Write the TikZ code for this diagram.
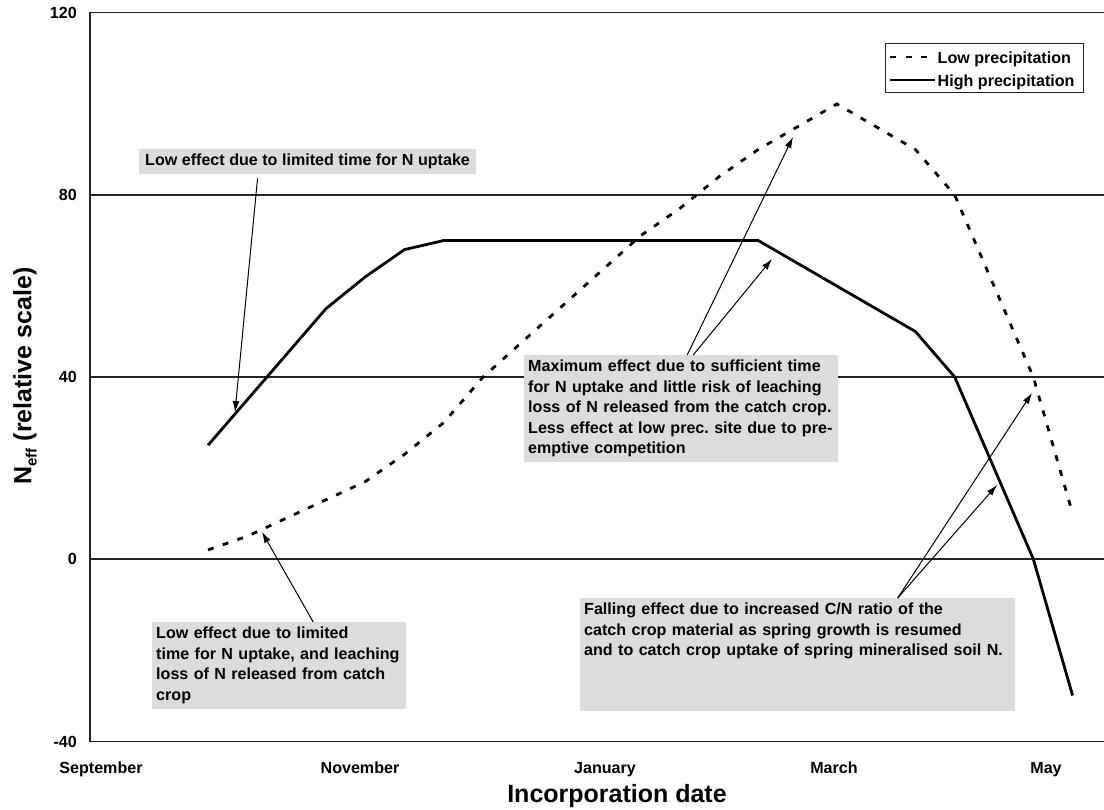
\documentclass[tikz,border=0pt]{standalone}
\usepackage{fontspec}
\setmainfont{Liberation Sans}
\usetikzlibrary{arrows.meta}
\definecolor{notegray}{RGB}{220,220,220}
\definecolor{gridgray}{RGB}{35,35,35}
\frenchspacing

\begin{document}
\begin{tikzpicture}[x=1pt, y=-1pt, font=\bfseries\fontsize{16.1}{20.5}\selectfont]
    \tikzstyle{gridline} = [draw=gridgray, line width=1.2pt]
    \tikzstyle{axisline} = [draw=gridgray, line width=1.6pt]
    \tikzstyle{highprec} = [draw=black, line width=2.8pt, line join=round]
    \tikzstyle{lowprec} = [draw=black, line width=2.8pt, dash pattern=on 6pt off 9.5pt]
    \tikzstyle{note} = [fill=notegray, inner xsep=4pt, inner ysep=5pt, align=left, anchor=north west, execute at begin node={\hyphenpenalty=10000\relax}]
    \tikzstyle{pointer} = [draw=black, line width=1pt, -{Latex[length=11pt,width=7pt]}]
    \tikzstyle{bigtitle} = [font=\bfseries\fontsize{25}{30}\selectfont]

    \useasboundingbox (0,0) rectangle (1104,810);

    \foreach \yy in {195,377,559}
        \draw[gridline] (90,\yy) -- (1104,\yy);
    \draw[axisline] (1104,12.5) -- (90,12.5) -- (90,741.5) -- (1104,741.5);

    \foreach \val/\yy [count=\k] in {120/12.5, 80/195, 40/377, 0/559, -40/741.5}
        \node[anchor=east, inner sep=0pt] (ytick\k) at (77,\yy) {\val};
    \foreach \mon/\xx [count=\k] in {September/101, November/360, January/605, March/834, May/1046}
        \node[anchor=base, inner sep=0pt] (month\k) at (\xx,773) {\mon};

    \node[bigtitle, anchor=base] (xtitle) at (617,802) {Incorporation date};
    \node[bigtitle, rotate=90] (ytitle) at (25,376) {N\raisebox{-0.4ex}{\fontsize{15}{18}\selectfont eff} (relative scale)};

    \begin{scope}[shift={(208,559)}, x=39.3pt, y=4.55pt]
        \draw[highprec] (0,25) -- (3,55) -- (4,62) -- (5,68) -- (6,70) -- (14,70) -- (18,50) -- (19,40) -- (21,0) -- (22,-30);
        \draw[lowprec] (0,2) -- (1,5) -- (2,9) -- (3,13) -- (4,17) -- (5,23) -- (6,30) -- (7,40) -- (11,71) -- (12,77) -- (13,84) -- (14,90) -- (15,95) -- (16,100) -- (18,90) -- (19,80) -- (21,40) -- (22,10);
    \end{scope}

    \node[draw=gridgray, line width=1.2pt, fill=white, minimum width=198pt, minimum height=49pt, anchor=north west, inner sep=0pt] (legend) at (885,43) {};
    \node[anchor=west, inner sep=0pt] (lowlbl) at (937.5,59) {Low precipitation};
    \node[anchor=west, inner sep=0pt] (highlbl) at (937.5,82) {High precipitation};
    \draw[lowprec] (890,57) -- (928,57);
    \draw[highprec] (890,80) -- (935,80);

    \node[note, inner xsep=6pt] (lowtime) at (139,149) {Low effect due to limited time for N uptake};
    \node[note, text width=306pt] (maxeff) at (524,355) {Maximum effect due to sufficient time\\for N uptake and little risk of leaching\\loss of N released from the catch crop.\\Less effect at low prec. site due to pre-\\emptive competition};
    \node[note, text width=246pt] (lowleach) at (152,622) {Low effect due to limited\\time for N uptake, and leaching\\loss of N released from catch\\crop};
    \node[note, text width=427pt, text depth=91pt] (falling) at (580,598) {Falling effect due to increased C/N ratio of the\\catch crop material as spring growth is resumed\\and to catch crop uptake of spring mineralised soil N.};

    \coordinate (tipA) at (235,412);
    \coordinate (tipB) at (262,532);
    \coordinate (tipC) at (793,137);
    \coordinate (tipD) at (772,259);
    \coordinate (tipE) at (1032,393);
    \coordinate (tipF) at (997,485);

    \draw[pointer] ([xshift=-50pt,yshift=-4pt]lowtime.south) -- (tipA);
    \draw[pointer] ([xshift=34pt]lowleach.north) -- (tipB);
    \draw[pointer] ([xshift=6pt]maxeff.north) -- (tipC);
    \draw[pointer] ([xshift=12pt]maxeff.north) -- (tipD);
    \draw[pointer] ([xshift=100pt]falling.north) -- (tipE);
    \draw[pointer] ([xshift=100pt]falling.north) -- (tipF);
\end{tikzpicture}
\end{document}
